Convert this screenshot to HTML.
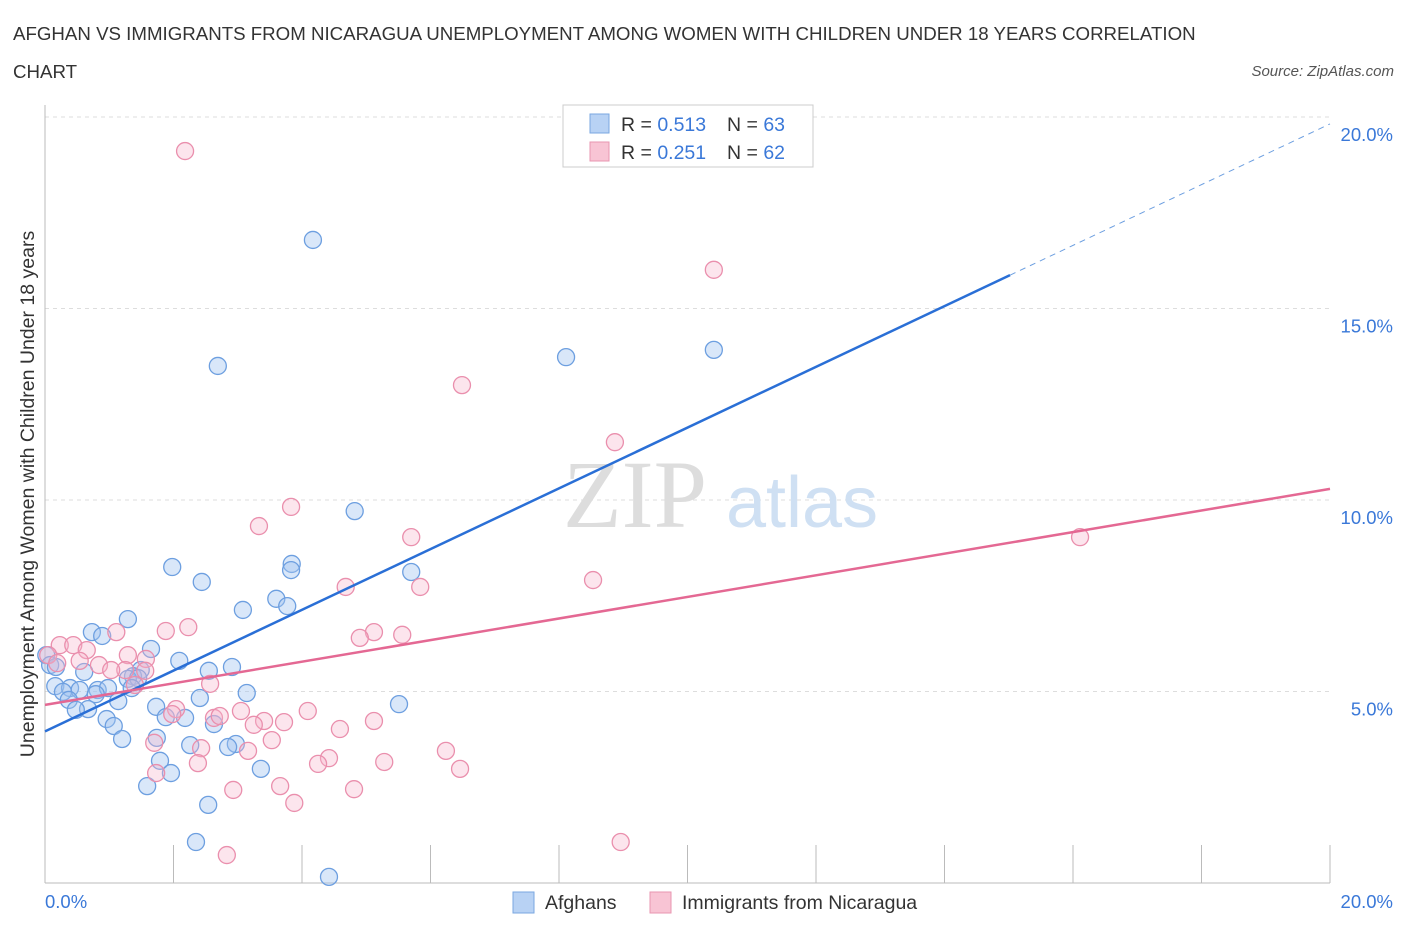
<!DOCTYPE html>
<html><head><meta charset="utf-8"><style>
body{margin:0;background:#fff;font-family:"Liberation Sans",sans-serif;}
svg text{font-family:"Liberation Sans",sans-serif;}
</style></head><body>
<svg width="1406" height="930" viewBox="0 0 1406 930" xmlns="http://www.w3.org/2000/svg">
<text x="13" y="40" font-size="18.7" fill="#333">AFGHAN VS IMMIGRANTS FROM NICARAGUA UNEMPLOYMENT AMONG WOMEN WITH CHILDREN UNDER 18 YEARS CORRELATION</text>
<text x="13" y="78" font-size="18.7" fill="#333">CHART</text>
<text x="1394" y="76" font-size="15" fill="#555" font-style="italic" text-anchor="end">Source: ZipAtlas.com</text>
<g id="grid"></g>
<g>
<text x="635" y="527" font-size="96" fill="#ddd" text-anchor="middle" style="font-family:'Liberation Serif',serif">ZIP</text>
<text x="802" y="527" font-size="72" fill="#cfe0f3" text-anchor="middle">atlas</text>
</g>
<g id="axes"></g>
<g id="pts"></g>
<g id="lines"></g>
<text transform="translate(34,494) rotate(-90)" font-size="19.5" fill="#333" text-anchor="middle">Unemployment Among Women with Children Under 18 years</text>
<g>
<rect x="563" y="105" width="250" height="62" fill="#fff" stroke="#ccc"/>
<rect x="590" y="114" width="19" height="19" fill="#b8d2f4" stroke="#7aa7e0"/>
<rect x="590" y="142" width="19" height="19" fill="#f8c4d4" stroke="#e896b0"/>
<text x="621" y="131" font-size="19.5" fill="#333">R = <tspan fill="#3a78d8">0.513</tspan></text>
<text x="727" y="131" font-size="19.5" fill="#333">N = <tspan fill="#3a78d8">63</tspan></text>
<text x="621" y="159" font-size="19.5" fill="#333">R = <tspan fill="#3a78d8">0.251</tspan></text>
<text x="727" y="159" font-size="19.5" fill="#333">N = <tspan fill="#3a78d8">62</tspan></text>
</g>
<g>
<rect x="513" y="892" width="21" height="21" fill="#b8d2f4" stroke="#7aa7e0"/>
<text x="545" y="909" font-size="19.5" fill="#333">Afghans</text>
<rect x="650" y="892" width="21" height="21" fill="#f8c4d4" stroke="#e896b0"/>
<text x="682" y="909" font-size="19.5" fill="#333">Immigrants from Nicaragua</text>
</g>
</svg>
<script>
const yTicks=[5,10,15,20];
const yTickLabels=["5.0%","10.0%","15.0%","20.0%"];
const xTicks=[0,2,4,6,8,10,12,14,16,18,20];
const blueX=[4.17,2.69,8.11,10.41,4.82,1.98,2.44,3.84,3.83,5.70,3.08,3.60,3.77,1.29,0.73,0.89,1.65,2.09,0.02,0.08,0.17,0.61,1.49,1.37,2.55,2.91,1.29,1.45,0.16,0.39,0.28,0.54,0.82,0.98,0.79,1.35,3.14,2.41,0.37,1.14,5.51,0.67,0.48,1.73,2.18,1.88,0.96,2.63,1.07,1.20,1.74,2.26,2.97,2.85,1.79,1.96,3.36,1.59,2.54,2.35,4.42];
const blueY=[16.79,13.50,13.73,13.92,9.71,8.25,7.86,8.33,8.17,8.12,7.13,7.42,7.23,6.89,6.55,6.45,6.11,5.80,5.95,5.69,5.64,5.51,5.56,5.40,5.54,5.64,5.33,5.35,5.14,5.09,4.99,5.04,5.04,5.09,4.93,5.09,4.96,4.83,4.78,4.75,4.67,4.54,4.52,4.60,4.31,4.33,4.28,4.15,4.10,3.76,3.79,3.60,3.63,3.55,3.19,2.87,2.98,2.53,2.04,1.07,0.16];
const pinkX=[2.18,10.41,6.49,8.87,3.83,3.33,5.70,16.11,8.53,4.68,5.84,1.88,2.23,1.11,5.12,4.90,5.56,0.23,0.44,0.65,0.05,0.19,0.54,0.84,1.29,1.57,1.56,1.25,1.03,1.40,2.57,2.04,1.98,2.63,2.72,3.05,3.41,4.09,3.72,3.25,4.59,5.12,3.53,1.70,2.43,3.16,6.24,4.42,4.25,5.28,2.38,6.46,1.73,3.66,2.93,4.81,3.88,8.96,2.83];
const pinkY=[19.11,16.01,13.00,11.51,9.82,9.32,9.03,9.03,7.91,7.73,7.73,6.58,6.68,6.55,6.55,6.40,6.48,6.21,6.21,6.08,5.95,5.74,5.80,5.69,5.95,5.85,5.54,5.56,5.56,5.17,5.20,4.54,4.41,4.31,4.36,4.49,4.23,4.49,4.20,4.13,4.02,4.23,3.73,3.66,3.52,3.45,3.45,3.26,3.11,3.16,3.13,2.98,2.87,2.53,2.43,2.45,2.09,1.07,0.73];
const blueTrend=[3.96,0.793]; const blueSolidEnd=15.02;
const pinkTrend=[4.65,0.282];
const NS="http://www.w3.org/2000/svg";
const X=v=>45+v*64.25, Y=v=>883-v*38.3;
function mk(t,a,p){const e=document.createElementNS(NS,t);for(const k in a)e.setAttribute(k,a[k]);p.appendChild(e);return e;}
const grid=document.getElementById('grid'),axes=document.getElementById('axes'),pts=document.getElementById('pts'),lines=document.getElementById('lines');
yTicks.forEach((t,i)=>{const l=mk('line',{x1:45,x2:1330,y1:Y(t),y2:Y(t),stroke:'#ddd','stroke-dasharray':'4,4'},grid);

const tx=mk('text',{x:1393,y:Y(t)+24,'font-size':18.5,fill:'#3a78d8','text-anchor':'end'},axes);tx.textContent=yTickLabels[i];
});
mk('line',{x1:45,x2:45,y1:105,y2:883,stroke:'#bbb'},axes);
mk('line',{x1:45,x2:1330,y1:883,y2:883,stroke:'#bbb'},axes);
xTicks.forEach(t=>{const l=mk('line',{x1:X(t),x2:X(t),y1:845,y2:883,stroke:'#bbb'},axes);});
let a=mk('text',{x:45,y:908,'font-size':18.5,fill:'#3a78d8'},axes);a.textContent='0.0%';
a=mk('text',{x:1393,y:908,'font-size':18.5,fill:'#3a78d8','text-anchor':'end'},axes);a.textContent='20.0%';
blueX.forEach((v,i)=>{const c=mk('circle',{cx:X(v),cy:Y(blueY[i]),r:8.5,fill:'rgba(160,196,240,0.4)',stroke:'#6d9fe0','stroke-width':1.3},pts);
});
pinkX.forEach((v,i)=>{const c=mk('circle',{cx:X(v),cy:Y(pinkY[i]),r:8.5,fill:'rgba(246,180,202,0.35)',stroke:'#ea8fad','stroke-width':1.3},pts);
});
const bf=x=>blueTrend[0]+blueTrend[1]*x, pf=x=>pinkTrend[0]+pinkTrend[1]*x;
let l=mk('line',{x1:X(0),y1:Y(bf(0)),x2:X(blueSolidEnd),y2:Y(bf(blueSolidEnd)),stroke:'#2a6fd6','stroke-width':2.5},lines);

l=mk('line',{x1:X(blueSolidEnd),y1:Y(bf(blueSolidEnd)),x2:X(20),y2:Y(bf(20)),stroke:'#6d9fe0','stroke-width':1,'stroke-dasharray':'6,5'},lines);

l=mk('line',{x1:X(0),y1:Y(pf(0)),x2:X(20),y2:Y(pf(20)),stroke:'#e46893','stroke-width':2.5},lines);

</script>
</body></html>
